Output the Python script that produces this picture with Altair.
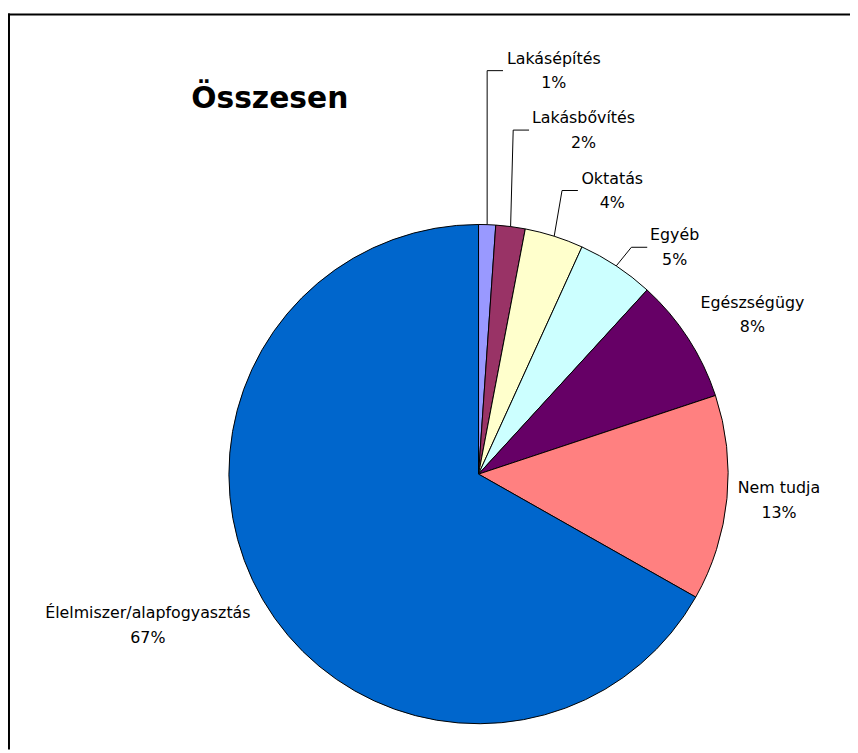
import altair as alt
import pandas as pd
import numpy as np

# ---- data ----
categories = ["Lakásépítés", "Lakásbővítés", "Oktatás", "Egyéb",
              "Egészségügy", "Nem tudja", "Élelmiszer/alapfogyasztás"]
shares = [1.1, 1.9, 3.8, 5.0, 8.1, 13.3, 66.8]
colors = ["#9999FF", "#993366", "#FFFFCC", "#CCFFFF", "#660066", "#FF8080", "#0066CC"]
title_text = "Összesen"

# ---- layout (pixels in chart space) ----
W, H = 850, 745
CX, CY, R = 475, 467, 252
label_x = [551, 581, 610, 673, 751.5, 778.3, 141.2]
label_y = [52.7, 112.7, 173.7, 231, 299, 486.5, 612.5]
leader_end_x = [499.7, 526, 575.3, 645.3, None, None, None]
LEADER_DY = 7
ELBOW = 16

df = pd.DataFrame({"cat": categories, "share": shares, "idx": range(len(categories))})
df["label"] = df["cat"] + "\n" + df["share"].round().astype(int).astype(str) + "%"
df["lx"] = label_x
df["ly"] = label_y

total = df["share"].sum()
cum = df["share"].cumsum() / total
mid = (cum - df["share"] / total / 2) * 2 * np.pi
df["ex"] = CX + R * np.sin(mid)
df["ey"] = CY - R * np.cos(mid)

rows = []
for i, c in enumerate(categories):
    ex_end = leader_end_x[i]
    if ex_end is None:
        continue
    yy = label_y[i] + LEADER_DY
    rows.append({"cat": c, "o": 0, "px": df.loc[i, "ex"], "py": df.loc[i, "ey"]})
    rows.append({"cat": c, "o": 1, "px": ex_end - ELBOW, "py": yy})
    rows.append({"cat": c, "o": 2, "px": ex_end, "py": yy})
lead = pd.DataFrame(rows)

pie = alt.Chart(df).mark_arc(radius=R, stroke="black", strokeWidth=1).encode(
    theta=alt.Theta("share:Q", stack=True),
    color=alt.Color("cat:N", scale=alt.Scale(domain=categories, range=colors), legend=None),
    order=alt.Order("idx:Q"),
    x=alt.value(CX),
    y=alt.value(CY),
)

leaders = alt.Chart(lead).mark_line(color="black", strokeWidth=1).encode(
    x=alt.X("px:Q", scale=None, axis=None),
    y=alt.Y("py:Q", scale=None, axis=None),
    detail="cat:N",
    order="o:Q",
)

labels = alt.Chart(df).mark_text(
    font="DejaVu Sans", fontSize=16, align="center", baseline="alphabetic",
    lineBreak="\n", lineHeight=25, color="black"
).encode(
    x=alt.X("lx:Q", scale=None, axis=None),
    y=alt.Y("ly:Q", scale=None, axis=None),
    text="label:N",
)

one = pd.DataFrame({"t": [title_text]})
title = alt.Chart(one).mark_text(
    font="DejaVu Sans", fontSize=30, fontWeight="bold", align="left",
    baseline="alphabetic", color="black"
).encode(x=alt.value(185), y=alt.value(97.7), text="t:N")

frame_top = alt.Chart(one).mark_rule(color="black", strokeWidth=2).encode(
    x=alt.value(0), x2=alt.value(W), y=alt.value(3))
frame_left = alt.Chart(one).mark_rule(color="black", strokeWidth=2).encode(
    x=alt.value(1), y=alt.value(2), y2=alt.value(H))

chart = alt.layer(pie, leaders, labels, title, frame_top, frame_left).properties(
    width=W, height=H, autosize=alt.AutoSizeParams(type="none"), padding=0
).configure_view(stroke=None)

chart.save("out.html", embed_options={"renderer": "svg", "actions": False})
